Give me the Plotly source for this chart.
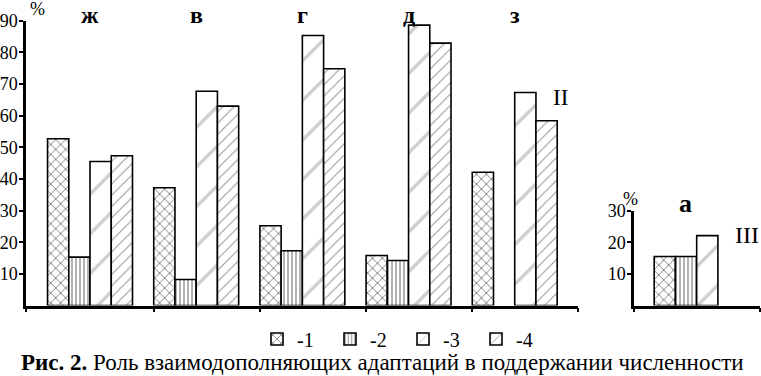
import plotly.graph_objects as go

# ---- data ----
categories = ["ж", "в", "г", "д", "з"]
series1 = [52.7, 37.2, 25.2, 15.8, 42.1]
series2 = [15.3, 8.2, 17.3, 14.2, None]
series3 = [45.5, 67.7, 85.3, 88.6, 67.3]
series4 = [47.3, 63.0, 74.8, 82.9, 58.4]

categories_iii = ["а"]
series1_iii = [15.5]
series2_iii = [15.5]
series3_iii = [22.1]
series4_iii = [None]

series_names = ["-1", "-2", "-3", "-4"]
yticks_main = [10, 20, 30, 40, 50, 60, 70, 80, 90]
yticks_iii = [10, 20, 30]

W, H = 761, 376
FONT = "Liberation Serif"


def px_x(p):
    return p / W


def px_y(p):
    return (H - p) / H


patterns = [
    dict(shape="x", fgcolor="black", bgcolor="white", size=7, solidity=0.25),
    dict(shape="|", fgcolor="black", bgcolor="white", size=4, solidity=0.3),
    dict(shape="/", fgcolor="#a0a0a0", bgcolor="white", size=28, solidity=0.12),
    dict(shape="/", fgcolor="#222222", bgcolor="white", size=8, solidity=0.12),
]

main_vals = [series1, series2, series3, series4]
iii_vals = [series1_iii, series2_iii, series3_iii, series4_iii]

fig = go.Figure()
for i in range(4):
    fig.add_trace(go.Bar(
        x=categories, y=main_vals[i], name=series_names[i],
        legendgroup=series_names[i],
        marker=dict(color="white", line=dict(color="black", width=1.6),
                    pattern=patterns[i]),
        xaxis="x", yaxis="y",
    ))
for i in range(4):
    fig.add_trace(go.Bar(
        x=categories_iii, y=iii_vals[i], name=series_names[i],
        legendgroup=series_names[i], showlegend=False,
        marker=dict(color="white", line=dict(color="black", width=1.6),
                    pattern=patterns[i]),
        xaxis="x2", yaxis="y2",
    ))

y0 = px_y(305.5)
axis_common = dict(showline=True, linecolor="black", linewidth=2.5,
                   ticks="outside", ticklen=4, tickwidth=2, tickcolor="black",
                   showgrid=False, zeroline=False, fixedrange=True)
tickfont = dict(family=FONT, size=18, color="black")

fig.update_layout(
    width=W, height=H,
    margin=dict(l=0, r=0, t=0, b=0, autoexpand=False),
    paper_bgcolor="white", plot_bgcolor="white",
    barmode="group", bargap=0.2, bargroupgap=0,
    font=dict(family=FONT, color="black"),
    xaxis=dict(axis_common, type="category", domain=[px_x(26), px_x(578)],
               range=[-0.603, 4.596], anchor="y", showticklabels=False,
               tickmode="array", tickvals=[-0.6, 0.6, 1.6, 2.6, 3.6, 4.594]),
    yaxis=dict(axis_common, domain=[y0, px_y(20.7)], range=[0, 90], anchor="x",
               tickmode="array", tickvals=yticks_main, tickfont=tickfont,
               ticklabelstandoff=-2),
    xaxis2=dict(axis_common, type="category", domain=[px_x(634), px_x(760)],
                range=[-0.59, 0.596], anchor="y2", showticklabels=False,
                tickmode="array", tickvals=[-0.588, 0.594]),
    yaxis2=dict(axis_common, domain=[y0, px_y(210.6)], range=[0, 30], anchor="x2",
                tickmode="array", tickvals=yticks_iii, tickfont=tickfont,
                ticklabelstandoff=-2),
    legend=dict(orientation="h", x=px_x(257), xanchor="left",
                y=px_y(339), yanchor="middle",
                font=dict(family=FONT, size=20, color="black"),
                entrywidth=28, entrywidthmode="pixels",
                bgcolor="rgba(0,0,0,0)", itemclick=False, itemdoubleclick=False),
    showlegend=True,
)

annotations = []
for c in categories:
    annotations.append(dict(x=c, xref="x", y=px_y(14.5), yref="paper",
                            text=f"<b>{c}</b>", showarrow=False,
                            font=dict(family=FONT, size=24, color="black"),
                            yanchor="middle"))
annotations.append(dict(x=categories_iii[0], xref="x2", xshift=-11,
                        y=px_y(203), yref="paper", text=f"<b>{categories_iii[0]}</b>",
                        showarrow=False, font=dict(family=FONT, size=26, color="black"),
                        yanchor="middle"))
annotations += [
    dict(x=px_x(28), y=px_y(8.5), xref="paper", yref="paper", text="%", showarrow=False,
         font=dict(family=FONT, size=18, color="black"), yanchor="middle"),
    dict(x=px_x(640), y=px_y(199), xref="paper", yref="paper", text="%", showarrow=False,
         font=dict(family=FONT, size=18, color="black"), yanchor="middle"),
    dict(x=px_x(570), y=px_y(97), xref="paper", yref="paper", text="II", showarrow=False,
         font=dict(family=FONT, size=23, color="black"), yanchor="middle"),
    dict(x=px_x(761), y=px_y(235), xref="paper", yref="paper", text="III", showarrow=False,
         font=dict(family=FONT, size=24, color="black"), xanchor="right", yanchor="middle"),
    dict(x=px_x(382), y=px_y(362), xref="paper", yref="paper",
         text="<b>Рис. 2.</b> Роль взаимодополняющих адаптаций в поддержании численности",
         showarrow=False, font=dict(family=FONT, size=23, color="black"), yanchor="middle"),
]
fig.update_layout(annotations=annotations)

fig.write_html("out.html", config={"displayModeBar": False},
               post_script="document.body.style.margin='0';document.body.style.overflow='hidden';")
